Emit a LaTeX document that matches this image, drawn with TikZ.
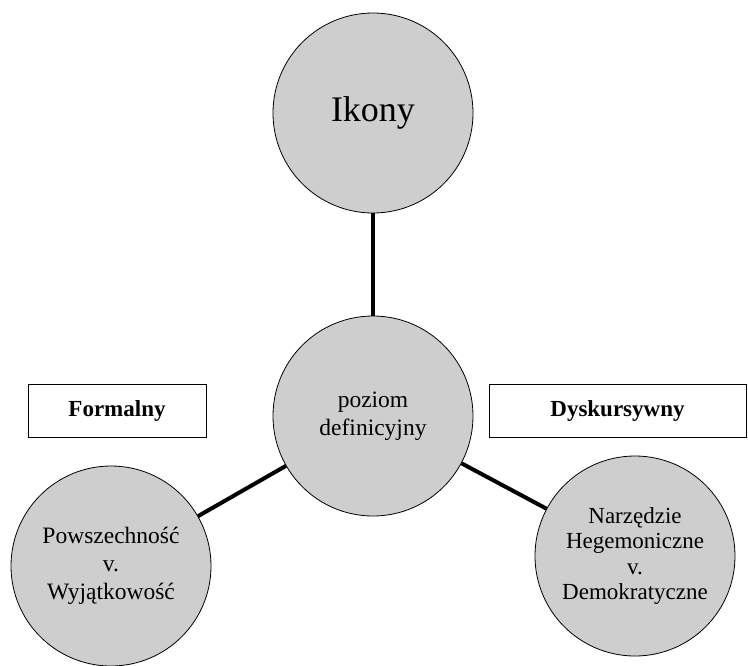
\documentclass[tikz,border=0pt]{standalone}
\usepackage{fontspec}
\setmainfont{Liberation Serif}
\definecolor{bubblegray}{RGB}{206,206,206}
\begin{document}
\begin{tikzpicture}[x=1pt, y=-1pt,
        bubble/.style={circle, draw, line width=0.8pt, fill=bubblegray, minimum size=200pt, inner sep=0pt, align=center, font=\fontsize{23.5}{28}\selectfont},
        labelbox/.style={draw, line width=1pt, minimum height=53pt, inner sep=0pt, font=\bfseries\fontsize{23}{27}\selectfont},
        link/.style={line width=4pt}]
        \useasboundingbox (0,0) rectangle (748,665);

        \node[bubble] (ikony) at (373,113) {\fontsize{36}{40}\selectfont Ikony};
        \node[bubble] (poziom) at (373,416) {poziom\\definicyjny};
        \node[bubble] (formal) at (111,566) {Powszechność\\v.\\Wyjątkowość};
        \node[bubble, font=\fontsize{23}{25.5}\selectfont] (dysk) at (635,556) {Narzędzie\\Hegemoniczne\\v.\\Demokratyczne};

        \node[labelbox, minimum width=178pt] (formalbox) at (117,410.5) {Formalny};
        \node[labelbox, minimum width=257pt] (dyskbox) at (617.5,410.5) {Dyskursywny};

        \draw[link] (ikony) -- (poziom);
        \draw[link] (poziom) -- (formal);
        \draw[link] (poziom) -- (dysk);
    \end{tikzpicture}
\end{document}
